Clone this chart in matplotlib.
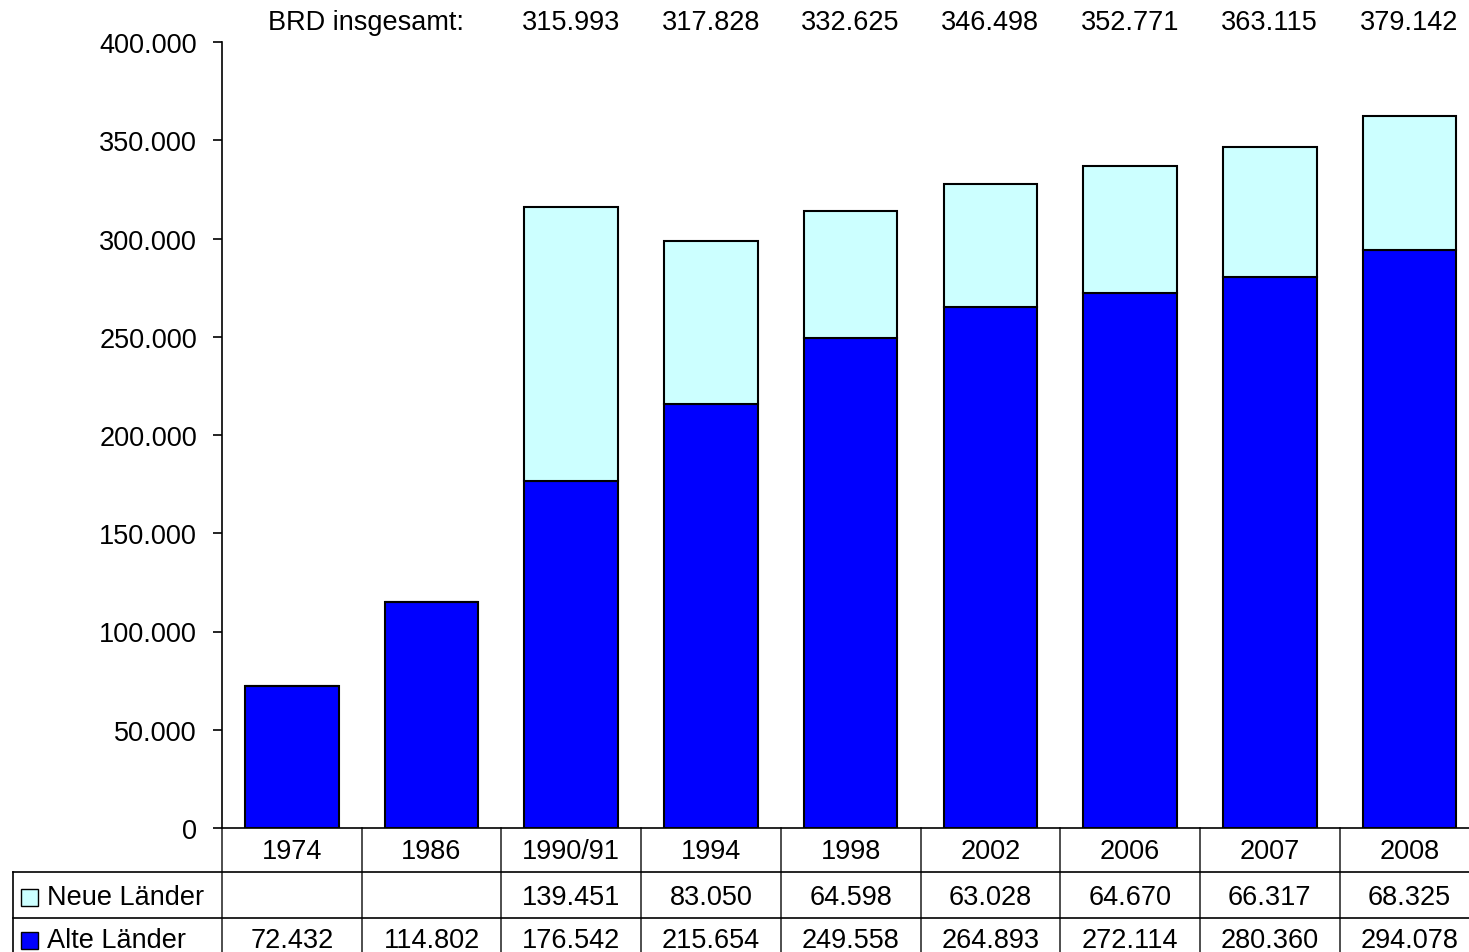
import matplotlib.pyplot as plt
import matplotlib.transforms as mtransforms
from matplotlib.lines import Line2D
from matplotlib.patches import Rectangle
from matplotlib.ticker import FuncFormatter

plt.rcParams['font.family'] = ['Liberation Sans', 'DejaVu Sans']

# Data
years = ["1974", "1986", "1990/91", "1994", "1998", "2002", "2006", "2007", "2008"]
alte = [72432, 114802, 176542, 215654, 249558, 264893, 272114, 280360, 294078]
neue = [None, None, 139451, 83050, 64598, 63028, 64670, 66317, 68325]
totals = ["315.993", "317.828", "332.625", "346.498", "352.771", "363.115", "379.142"]

ALTE_COLOR = "#0000FF"
NEUE_COLOR = "#CCFFFF"
W, H = 1469, 953
FS = 19.5


def dots(v):
    return f"{int(v):,}".replace(",", ".")


fig = plt.figure(figsize=(W / 100, H / 100), dpi=100)
# axes spans past the right edge, like the cropped original
ax = fig.add_axes([222 / W, 124 / H, (9 * 139.7) / W, 786 / H])

x = list(range(len(years)))
neue_vals = [v if v is not None else 0 for v in neue]
ax.bar(x, alte, width=0.67, color=ALTE_COLOR, edgecolor="black", linewidth=1.5)
ax.bar(x, neue_vals, bottom=alte, width=0.67, color=NEUE_COLOR,
       edgecolor="black", linewidth=1.5)

ax.set_xlim(-0.5, len(years) - 0.5)
ax.set_ylim(0, 400000)
ax.set_yticks(range(0, 400001, 50000))
ax.yaxis.set_major_formatter(FuncFormatter(lambda v, _: dots(v)))
ax.tick_params(axis="y", labelsize=FS, length=6.5, width=1.2, pad=11.5)
ax.set_xticks([])
for s in ["top", "right"]:
    ax.spines[s].set_visible(False)
ax.spines["left"].set_linewidth(1.2)
ax.spines["bottom"].set_linewidth(1.2)

# Totals above the bars
top = mtransforms.blended_transform_factory(ax.transData, fig.transFigure)
fig.text(268 / W, 1 - 23 / H, "BRD insgesamt:", fontsize=FS, va="center", ha="left")
for i, t in zip(x[2:], totals):
    ax.text(i, 1 - 23 / H, t, transform=top, fontsize=FS, ha="center", va="center")

# Data table below the axes
def fy(py):
    return 1 - py / H

row_y = [852, 898, 941]
for i, yr in enumerate(years):
    ax.text(i, fy(row_y[0]), yr, transform=top, fontsize=FS, ha="center", va="center")
    if neue[i] is not None:
        ax.text(i, fy(row_y[1]), dots(neue[i]), transform=top, fontsize=FS,
                ha="center", va="center")
    ax.text(i, fy(row_y[2]), dots(alte[i]), transform=top, fontsize=FS,
            ha="center", va="center")

# table grid
for b in range(len(years) + 1):
    ax.add_line(Line2D([b - 0.5, b - 0.5], [fy(829), 0], transform=top,
                       color="#303030", lw=1.2, clip_on=False))
for py in [873, 919]:
    fig.add_artist(Line2D([13 / W, 1], [fy(py), fy(py)], color="black", lw=1.2))
fig.add_artist(Line2D([13 / W, 13 / W], [fy(873), 0], color="black", lw=1.2))

# row headers with legend keys
for py, label, col in [(row_y[1], "Neue Länder", NEUE_COLOR),
                       (row_y[2], "Alte Länder", ALTE_COLOR)]:
    fig.add_artist(Rectangle((21 / W, fy(py + 9)), 17 / W, 17 / H, facecolor=col,
                             edgecolor="black", lw=1.0, transform=fig.transFigure))
    fig.text(47 / W, fy(py), label, fontsize=FS, ha="left", va="center")

fig.savefig("out.png", dpi=100)
